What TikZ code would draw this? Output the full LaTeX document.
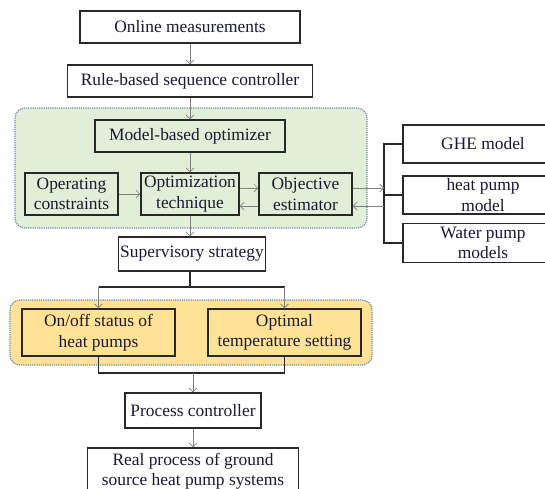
\documentclass[tikz,border=0pt]{standalone}
\usepackage{fontspec}
\setmainfont{Liberation Serif}
\usepackage{tikz}
\usetikzlibrary{positioning, arrows.meta}
\definecolor{panelgreen}{RGB}{226,239,216}
\definecolor{panelyellow}{RGB}{255,226,150}
\definecolor{paneledge}{RGB}{110,140,170}
\definecolor{boxedge}{RGB}{40,40,40}
\definecolor{textnavy}{RGB}{25,25,50}

\begin{document}
\begin{tikzpicture}[x=1pt, y=1pt, on grid, node distance=54pt,
    font=\fontsize{17.4}{20.5}\selectfont, text=textnavy,
    box/.style={draw=boxedge, line width=1.1pt, fill=white, align=center, inner sep=1pt, minimum height=32pt},
    inbox/.style={box, line width=1.5pt, fill=none},
    flow/.style={draw=gray, line width=0.7pt, -{Straight Barb[length=4pt,width=8pt]}},
    bus/.style={draw=boxedge, line width=1.4pt},
    panel/.style={draw=paneledge, densely dotted, line width=1.2pt, rounded corners=10pt}]
  \useasboundingbox (0,0) rectangle (545,-488);
  \clip (0,0) rectangle (545,-488);
  % panels
  \draw[panel, fill=panelgreen] (15,-108) rectangle (367,-228);
  \draw[panel, fill=panelyellow] (10,-300) rectangle (372,-365);

  % main column
  \node[box, minimum width=220pt] (online) at (190,-27) {Online measurements};
  \node[box, minimum width=245pt] (rule) [below=54pt of online] {Rule-based sequence controller};
  \node[inbox, minimum width=190pt] (model) [below=55pt of rule] {Model-based optimizer};
  \node[inbox, minimum width=98pt, minimum height=42pt] (optech) [below=58pt of model] {Optimization\\technique};
    \node[inbox, minimum width=93pt, minimum height=42pt] (opcon) [left=118.5pt of optech] {Operating\\constraints};
    \node[inbox, minimum width=93pt, minimum height=42pt] (objest) [right=115.5pt of optech] {Objective\\estimator};
  \node[box, minimum width=147pt, minimum height=34pt] (sup) [below=60pt of optech, xshift=2pt] {Supervisory strategy};
    \node[inbox, minimum width=153pt, minimum height=47pt] (onoff) [below left=78.5pt and 93.5pt of sup] {On/off status of\\heat pumps};
    \node[inbox, minimum width=153pt, minimum height=47pt] (optimal) [right=186pt of onoff] {Optimal\\temperature setting};
  \node[box, minimum width=136pt, minimum height=35pt] (process) [below=156.5pt of sup, xshift=1pt] {Process controller};
  \node[box, minimum width=211pt, minimum height=46pt] (realproc) [below=60.5pt of process] {Real process of ground\\source heat pump systems};

  % model boxes
  \node[box, minimum width=160pt, minimum height=38pt] (ghe) [above right=50pt and 177.5pt of objest] {GHE model};
  \node[box, minimum width=160pt, minimum height=38pt] (hpm) [below=51pt of ghe] {heat pump\\model};
  \node[box, minimum width=160pt, minimum height=39pt] (wpm) [below=48pt of hpm] {Water pump\\models};

  \coordinate (bus) at (384,-194);
  \coordinate[below=33pt of sup, xshift=-2pt] (split);
  \coordinate[above=37.5pt of process] (join);

  \draw[flow] (online) -- (rule);
  \draw[flow] (rule) -- (model);
  \draw[flow] (model) -- (optech);
  \draw[flow] (opcon) -- (optech);
  \draw[flow] ([yshift=6pt]optech.east) -- ([yshift=6pt]objest.west);
  \draw[flow] ([yshift=-12pt]objest.west) -- ([yshift=-12pt]optech.east);
  \draw[flow] (optech) -- (optech |- sup.north);

  \draw[bus] (ghe.west) -| (bus |- wpm.west) -- (wpm.west);
  \draw[bus] (bus |- hpm.west) -- (hpm.west);
  \draw[flow] ([yshift=6pt]objest.east) -- ([yshift=6pt]objest.east -| bus);
  \draw[flow] ([yshift=-12pt]objest.east -| bus) -- ([yshift=-12pt]objest.east);

  \draw[bus] (split |- sup.south) -- (split);
  \draw[bus] (onoff.north |- split) -- (optimal.north |- split);
  \draw[flow] (onoff.north |- split) -- (onoff.north);
  \draw[flow] (optimal.north |- split) -- (optimal.north);

  \draw[bus] (onoff.south) -- (onoff.south |- join) -- (optimal.south |- join) -- (optimal.south);
  \draw[flow] (join) -- (process);
  \draw[flow] (process) -- (realproc);
\end{tikzpicture}
\end{document}
